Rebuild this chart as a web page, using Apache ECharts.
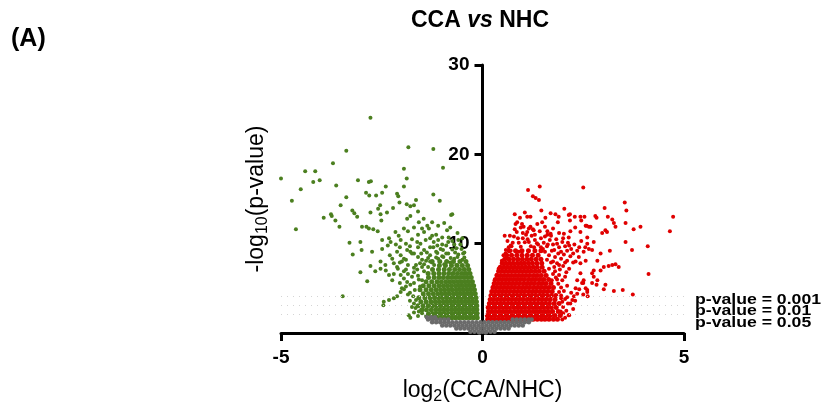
<!DOCTYPE html>
<html>
<head>
<meta charset="utf-8">
<script src="https://cdn.jsdelivr.net/npm/echarts@6/dist/echarts.min.js"></script>
<style>html,body{margin:0;padding:0;background:#fff}#chart{width:821px;height:410px}</style>
</head>
<body>
<div id="chart"></div>
<script>
// ---------- data (log2 fold change, -log10 p-value) ----------
const xTicks = [-5, 0, 5];
const yTicks = [0, 10, 20, 30];
const thresholdLevels = [4.1, 3.1, 2.1];
const thresholdLabels = ['p-value = 0.001', 'p-value = 0.01', 'p-value = 0.05'];

// dense core of down-regulated genes, rows: [y, [x...]]
const greenCoreRows = [
  [1.7, [-0.13,-0.22,-0.31,-0.4,-0.49,-0.58,-0.67,-0.76,-0.86,-0.95,-1.05,-1.15,-1.26]],
  [2.15, [-0.13,-0.21,-0.3,-0.39,-0.48,-0.57,-0.66,-0.75,-0.84,-0.94,-1.03,-1.13,-1.23,-1.34]],
  [2.6, [-0.14,-0.23,-0.32,-0.41,-0.5,-0.59,-0.68,-0.77,-0.87,-0.96,-1.06,-1.16,-1.27,-1.39,-1.5]],
  [3.05, [-0.14,-0.22,-0.31,-0.4,-0.49,-0.58,-0.67,-0.76,-0.85,-0.95,-1.04,-1.14,-1.24,-1.35,-1.47,-1.6]],
  [3.5, [-0.15,-0.24,-0.33,-0.42,-0.51,-0.6,-0.69,-0.78,-0.88,-0.97,-1.07,-1.17,-1.28,-1.4,-1.53]],
  [3.95, [-0.16,-0.25,-0.34,-0.43,-0.52,-0.61,-0.7,-0.8,-0.89,-0.99,-1.09,-1.19,-1.3,-1.43,-1.58]],
  [4.4, [-0.18,-0.27,-0.36,-0.45,-0.54,-0.63,-0.72,-0.82,-0.91,-1.01,-1.11,-1.22,-1.34,-1.47]],
  [4.85, [-0.2,-0.29,-0.38,-0.47,-0.56,-0.65,-0.75,-0.84,-0.94,-1.04,-1.15,-1.27,-1.4,-1.55]],
  [5.3, [-0.22,-0.31,-0.4,-0.49,-0.58,-0.67,-0.77,-0.87,-0.97,-1.08,-1.2,-1.33,-1.47]],
  [5.75, [-0.25,-0.34,-0.43,-0.52,-0.61,-0.71,-0.81,-0.91,-1.02,-1.13,-1.26,-1.4]],
  [6.2, [-0.28,-0.37,-0.46,-0.56,-0.66,-0.76,-0.86,-0.97,-1.08,-1.2,-1.34]],
  [6.65, [-0.31,-0.41,-0.51,-0.62,-0.73,-0.84,-0.96,-1.08,-1.21,-1.35]],
  [7.1, [-0.34,-0.45,-0.57,-0.69,-0.82,-0.95,-1.09,-1.24]],
  [7.55, [-0.37,-0.5,-0.63,-0.77,-0.92,-1.07]],
  [8.0, [-0.41,-0.56,-0.72,-0.89,-1.06,-1.25]]
];
const greenScatter = [
  [-2.78,24.1],[-3.38,20.4],[-1.84,20.8],[-1.22,20.6],[-3.71,19.0],[-0.98,18.5],[-4.40,18.1],[-4.15,18.1],
  [-1.95,18.4],[-5.0,17.3],[-4.2,16.9],[-4.04,17.1],[-3.09,17.1],[-2.82,16.9],[-2.77,17.0],[-1.88,17.3],
  [-4.51,16.1],[-3.63,16.5],[-1.95,16.4],[-2.4,16.4],[-4.73,14.8],[-3.38,15.2],[-2.89,15.7],[-2.81,15.4],
  [-2.64,15.4],[-2.49,15.7],[-2.12,15.6],[-2.09,15.3],[-1.22,15.5],[-1.06,14.8],[-1.65,14.9],[-1.88,14.4],
  [-1.79,14.2],[-1.7,14.3],[-2.06,14.6],[-3.52,14.3],[-3.23,13.7],[-3.18,13.4],[-2.78,13.5],[-2.54,14.3],
  [-2.59,13.9],[-2.37,13.5],[-2.22,14.0],[-1.6,13.6],[-0.78,13.2],[-3.76,13.3],[-3.74,13.1],[-3.94,12.9],
  [-3.11,13.0],[-4.63,11.6],[-3.65,12.6],[-3.55,11.9],[-2.51,12.6],[-2.53,13.3],[-2.99,11.9],[-2.88,11.9],
  [-2.82,11.7],[-2.71,11.6],[-2.6,11.4],[-3.3,10.1],[-3.22,8.8],[-3.03,10.2],[-3.0,9.3],[-2.74,9.1],
  [-3.03,6.8],[-2.86,5.8],[-3.47,4.1],[-2.78,7.5],[-2.66,6.9],[-2.53,7.2],[-2.46,3.1],[-2.32,3.7],
  [-2.2,3.9],[-2.49,10.4],[-2.32,10.6],[-2.28,10.2],[-2.35,9.8],[-2.24,8.3],[-2.2,7.8],[-2.12,7.4],
  [-2.49,9.4],[-2.16,11.3],[-2.08,10.9],[-2.03,10.4],[-1.95,11.7],[-1.87,12.8],[-1.79,13.1],[-1.58,12.4],
  [-1.46,12.8],[-1.37,12.0],[-1.33,11.7],[-1.25,10.9],[-0.88,11.5],[-0.84,10.7],[-0.75,13.3],[-1.62,10.2],
  [-1.54,10.0],[-1.41,10.4],[-1.21,10.2],[-1.12,9.8],[-1.04,9.4],[-1.87,9.3],[-1.79,9.1],[-1.7,8.9],
  [-2.12,9.1],[-2.03,8.7],[-1.95,8.3],[-2.53,8.0],[-2.41,7.6],[-2.32,6.5],[-2.24,5.9],[-2.03,6.5],
  [-1.95,6.1],[-1.87,5.7],[-1.79,5.4],[-1.83,2.0],[-1.79,1.7],[-1.66,2.8],[-1.58,2.4],[-1.52,2.6],
  [-2.12,4.1],[-2.03,4.6],[-2.45,3.5],
  [-1.9,10.0],[-1.75,10.5],[-1.6,11.0],[-1.45,11.3],[-1.3,10.6],[-1.15,11.0],[-1.0,10.7],[-0.9,9.8],
  [-0.75,10.3],[-0.65,9.5],[-0.55,9.9],[-0.6,8.8],[-0.7,8.3],[-0.85,8.9],[-1.0,8.6],[-1.15,9.1],
  [-1.3,8.7],[-1.45,9.3],[-1.6,8.5],[-1.75,8.9],[-1.9,8.2],[-2.05,7.9],[-1.85,7.6],[-1.7,7.3],
  [-1.55,7.8],[-1.4,8.1],[-1.25,7.9],[-1.1,8.3],[-0.95,7.7],[-0.8,7.9],[-0.65,7.6],[-0.5,8.2],
  [-0.45,9.0],[-0.5,10.6],[-0.62,11.2],[-0.8,11.8],[-0.95,12.3],[-1.1,12.0],[-1.25,12.4],[-1.5,11.7],
  [-1.7,11.8],[-1.85,11.4],[-2.05,9.6],[-2.15,9.9],[-2.3,8.7],[-2.4,7.0],[-2.2,6.6],[-2.05,5.6],
  [-1.95,4.9],[-1.85,4.3],[-1.8,3.6],[-1.7,6.8],[-1.6,6.4],[-2.1,7.2],[-1.95,6.9],
  [-0.45,8.45],[-0.62,8.5],[-0.79,8.4],[-0.97,8.5],[-1.15,8.45],[-1.35,8.4],[-0.48,8.9],[-0.68,9.0],
  [-0.9,8.9],[-1.12,8.95],[-0.52,9.4],[-0.75,9.35],[-0.98,9.3],[-1.22,9.6],[-1.38,9.0],[-1.52,8.9],
  [-1.5,7.4],[-1.62,7.1],[-1.45,6.9],[-1.58,6.0],[-1.7,5.6],[-1.68,4.8],[-1.72,4.1],[-1.7,3.3],
  [-1.7,2.3],[-1.75,2.9],[-1.65,3.7],[-1.8,4.5],[-1.9,5.2],[-2.0,5.0],[-1.55,5.2],[-1.5,5.9],
  [-1.75,6.3],[-1.85,6.6],[-1.65,7.6],[-1.9,7.1],[-2.0,8.0],[-1.35,7.4],[-1.2,7.6],[-1.3,8.0],
  [-1.45,7.7],[-1.5,8.2],[-1.0,9.9],[-0.7,9.9],[-0.6,10.4],[-0.85,10.2],[-1.1,10.4],[-1.3,9.6],
  [-1.6,9.6],[-1.8,9.7],[-1.4,1.9],[-1.5,2.2],[-1.6,1.9]
];

// dense core of up-regulated genes, rows: [y, [x...]]
const redCoreRows = [
  [1.55, [0.13,0.22,0.31,0.41,0.5,0.6,0.69,0.79,0.88,0.98,1.07,1.17,1.26,1.36,1.46,1.55,1.65,1.76,1.86]],
  [1.95, [0.12,0.2,0.29,0.38,0.47,0.56,0.65,0.74,0.84,0.93,1.03,1.12,1.21,1.31,1.4,1.5,1.59,1.69,1.8,1.93]],
  [2.4, [0.15,0.24,0.33,0.43,0.52,0.61,0.7,0.8,0.89,0.98,1.08,1.17,1.27,1.36,1.45,1.55,1.64,1.74,1.88]],
  [2.85, [0.14,0.22,0.31,0.4,0.49,0.58,0.67,0.77,0.86,0.95,1.04,1.14,1.23,1.32,1.42,1.51,1.61,1.71,1.83]],
  [3.3, [0.17,0.26,0.35,0.44,0.53,0.63,0.72,0.81,0.9,1.0,1.09,1.18,1.28,1.37,1.47,1.56,1.66,1.78,1.9]],
  [3.75, [0.19,0.28,0.37,0.46,0.55,0.64,0.73,0.83,0.92,1.01,1.11,1.2,1.29,1.39,1.48,1.58,1.68,1.8]],
  [4.2, [0.21,0.3,0.39,0.48,0.57,0.66,0.76,0.85,0.94,1.03,1.13,1.22,1.31,1.41,1.5,1.6,1.71,1.82]],
  [4.65, [0.23,0.32,0.41,0.5,0.59,0.68,0.78,0.87,0.96,1.05,1.15,1.24,1.33,1.43,1.52,1.62,1.73]],
  [5.1, [0.26,0.35,0.44,0.53,0.62,0.71,0.8,0.9,0.99,1.08,1.17,1.27,1.36,1.45,1.55,1.65,1.76]],
  [5.55, [0.29,0.38,0.47,0.56,0.65,0.74,0.83,0.92,1.02,1.11,1.2,1.29,1.39,1.48,1.58,1.7]],
  [6.0, [0.32,0.41,0.5,0.59,0.68,0.77,0.86,0.95,1.04,1.14,1.23,1.32,1.42,1.52,1.64]],
  [6.45, [0.36,0.45,0.54,0.63,0.72,0.81,0.9,0.99,1.08,1.17,1.27,1.36,1.46,1.58]],
  [6.9, [0.4,0.49,0.58,0.67,0.76,0.85,0.94,1.03,1.12,1.21,1.31,1.41,1.53]],
  [7.35, [0.44,0.53,0.62,0.71,0.8,0.89,0.98,1.07,1.16,1.26,1.36,1.48]],
  [7.8, [0.49,0.58,0.67,0.76,0.86,0.95,1.04,1.14,1.24,1.35,1.47]],
  [8.25, [0.55,0.66,0.77,0.88,0.99,1.1,1.21,1.33,1.45]],
  [8.7, [0.6,0.72,0.85,0.98,1.11,1.24,1.38]],
  [9.2, [0.66,0.82,0.98,1.14,1.3,1.45]]
];
const redScatter = [
  [1.13,16.0],[1.42,16.4],[1.25,15.3],[1.32,15.1],[1.40,14.9],[2.50,16.3],[0.80,13.3],[1.05,13.5],
  [1.46,13.7],[0.93,12.9],[1.11,13.0],[1.19,13.0],[1.69,13.4],[1.81,13.3],[2.03,13.9],[2.14,13.2],
  [2.29,13.0],[2.43,13.0],[1.56,12.9],[1.87,12.4],[1.89,13.0],[1.36,12.2],[1.48,12.4],[0.82,12.2],
  [0.86,12.4],[0.98,12.2],[1.02,11.9],[0.55,10.9],[1.19,11.9],[1.27,11.5],[1.11,11.3],[1.61,11.4],
  [1.69,11.1],[1.61,11.0],[2.02,11.1],[2.18,11.4],[2.14,10.7],[2.43,11.3],[2.56,12.0],[2.64,11.9],
  [2.6,10.7],[0.65,9.6],[0.57,8.9],[3.53,14.6],[3.57,13.7],[3.55,12.3],[4.73,13.0],[4.65,11.4],
  [3.92,11.9],[3.75,11.6],[3.03,14.0],[2.17,13.3],[2.17,12.6],[2.45,12.6],[2.53,13.0],[2.80,13.1],
  [2.83,12.9],[3.11,13.0],[3.22,12.7],[3.26,12.3],[3.30,11.9],[2.68,11.9],[2.58,12.0],[3.05,11.5],
  [2.97,11.2],[3.09,11.3],[3.55,10.2],[4.10,9.7],[3.71,9.3],[3.16,9.2],[2.93,8.9],[2.85,8.1],
  [3.01,7.4],[3.13,7.5],[3.22,7.6],[3.30,7.7],[3.38,7.4],[2.76,7.0],[2.72,6.7],[2.93,7.0],
  [4.12,6.6],[3.05,5.4],[3.01,4.9],[3.26,4.7],[3.48,4.8],[3.73,4.3],[2.6,4.6],[2.5,4.3],
  [2.61,4.1],[2.76,6.3],[2.85,5.9],[2.72,5.6],[2.83,5.4],[2.6,10.0],[2.64,9.4],[2.51,9.1],
  [2.72,9.3],[2.76,10.2],[2.56,8.1],[2.43,7.8],[2.39,8.5],[2.31,8.0],[2.43,6.7],[2.35,5.9],
  [2.47,5.6],[2.56,5.0],[2.31,5.0],[2.27,4.1],[2.23,3.7],[2.1,4.0],[2.51,5.9],[2.35,4.4],
  [2.18,3.3],[2.14,2.0],[1.94,2.4],[2.6,4.8],
  [0.62,10.3],[0.7,9.8],[0.78,10.8],[0.85,11.3],[0.9,10.1],[1.0,10.6],[1.08,11.0],[1.15,10.2],
  [1.22,10.9],[1.3,10.4],[1.38,9.9],[1.45,10.6],[1.52,10.1],[1.6,9.7],[1.67,10.4],[1.75,9.9],
  [1.83,10.5],[1.9,9.6],[1.98,10.2],[2.05,9.7],[2.12,10.1],[2.2,9.4],[2.28,9.9],[2.35,9.2],
  [1.55,9.1],[1.65,8.7],[1.72,9.2],[1.8,8.5],[1.88,8.9],[1.95,8.3],[2.02,8.8],[2.1,8.1],
  [2.18,8.6],[2.25,7.9],[1.7,7.9],[1.78,7.4],[1.85,7.8],[1.92,7.1],[2.0,7.5],[2.08,6.8],
  [2.15,7.2],[1.75,6.6],[1.82,6.2],[1.9,6.5],[1.98,5.9],[2.05,6.3],[1.88,5.5],[1.95,5.1],
  [2.02,4.7],[2.1,5.3],[2.2,4.5],[1.95,4.2],[2.05,3.8],[2.12,3.3],[2.0,2.9],[2.08,2.5],
  [2.15,2.0],[2.25,2.7],[2.3,3.6],[1.98,3.5],[2.4,4.9],[2.5,5.6],[0.95,11.8],[1.25,11.6],
  [1.55,11.9],[1.75,11.7],[1.9,11.2],[2.3,11.8],[2.45,10.3],[2.55,9.6],[0.58,9.3],[0.52,8.7],
  [0.48,8.1],[0.4,7.2],[0.35,6.5],[0.3,5.9],[0.27,5.2],
  [0.72,9.7],[0.95,9.65],[1.2,9.7],[1.45,9.6],[0.75,10.1],[1.05,10.15],[1.35,10.05],[0.68,10.9],
  [0.8,11.6],[1.0,11.2],[1.15,11.7],[1.3,11.0],[1.42,11.4],[1.55,10.8],[1.7,10.9],[1.85,10.0],
  [2.0,10.6],[2.15,9.8],[0.88,10.6],[1.12,10.5],[1.28,9.6],[1.5,9.4],[1.62,9.9],[1.78,9.3],
  [1.95,9.1],[2.1,9.2],[2.25,8.9],[2.4,9.6],[0.6,8.4],[0.7,9.2],[0.9,9.1],[1.6,8.2],
  [1.75,8.0],[1.9,7.6],[2.05,7.9],[1.65,7.2],[1.8,6.9],[1.72,5.9],[1.85,6.0],[1.9,4.6],
  [1.95,3.9],[2.0,2.2],[2.05,1.7],[1.98,1.5]
];

// non-significant genes, rows: [y, [x...]]
const grayRows = [
  [0.05, [-0.08,0.08]],
  [0.15, [-0.3,-0.2,-0.1,0,0.1,0.2,0.3]],
  [0.5, [-0.65,-0.55,-0.45,-0.35,-0.25,-0.15,-0.05,0.05,0.15,0.25,0.35,0.45,0.55,0.65]],
  [0.85, [-1.0,-0.9,-0.8,-0.7,-0.6,-0.5,-0.4,-0.3,-0.2,-0.1,0,0.1,0.2,0.3,0.4,0.5,0.6,0.7,0.8,0.9,1.0]],
  [1.2, [-1.25,-1.15,-1.05,-0.95,-0.85,-0.75,-0.65,-0.55,-0.45,-0.35,-0.25,-0.15,-0.05,0.05,0.15,0.25,0.35,0.45,0.55,0.65,0.75,0.85,0.95,1.05,1.15]],
  [1.5, [-1.35,-1.25,-1.15,-1.05,-0.95,-0.85,0.75,0.85,0.95,1.05,1.15,1.22]],
  [1.75, [-1.38,-1.28,-1.18]]
];

// ---------- build ----------
function fromRows(rows) {
  const out = [];
  rows.forEach(r => r[1].forEach(x => out.push([x, r[0]])));
  return out;
}
const greenCore = fromRows(greenCoreRows);
const redCore = fromRows(redCoreRows);
const grayData = fromRows(grayRows);

const FONT = 'Liberation Sans, Arial, Helvetica, sans-serif';
const GREEN = '#4b7f1f', RED = '#e00000', GRAY = '#6b6b6b';
const chart = echarts.init(document.getElementById('chart'), null, {renderer: 'canvas'});

// pixel distance of x = 0 from the grid's left edge (y axis sits on x = 0)
const GRID_LEFT = 281, GRID_RIGHT = 137;
const plotW = 821 - GRID_LEFT - GRID_RIGHT;
const zeroOffset = plotW * (0 - xTicks[0]) / (xTicks[xTicks.length - 1] - xTicks[0]);

function dots(name, data, color, size, z) {
  return {type: 'scatter', name, data, symbolSize: size, z, silent: true,
    itemStyle: {color, opacity: 1}};
}

chart.setOption({
  backgroundColor: '#ffffff',
  animation: false,
  title: [
    {
      text: '{b|CCA }{i|vs}{b| NHC}',
      left: 406, top: 4,
      textStyle: {
        rich: {
          b: {fontFamily: FONT, fontSize: 23, fontWeight: 'bold', color: '#000'},
          i: {fontFamily: FONT, fontSize: 23, fontWeight: 'bold', fontStyle: 'italic', color: '#000'}
        }
      }
    },
    {
      text: '(A)', left: 6, top: 22,
      textStyle: {fontFamily: FONT, fontSize: 25, fontWeight: 'bold', color: '#000'}
    }
  ],
  grid: {left: GRID_LEFT, right: GRID_RIGHT, top: 65, bottom: 75, containLabel: false},
  xAxis: {
    type: 'value', min: xTicks[0], max: xTicks[xTicks.length - 1], interval: 5,
    splitLine: {show: false},
    axisLine: {show: true, onZero: false, lineStyle: {color: '#000', width: 3}},
    axisTick: {show: true, length: 8, lineStyle: {color: '#000', width: 3}},
    axisLabel: {color: '#000', fontFamily: FONT, fontSize: 19, fontWeight: 'bold', margin: 15},
    name: '{n|log}{s|2}{n|(CCA/NHC)}',
    nameLocation: 'middle', nameGap: 44,
    nameTextStyle: {
      rich: {
        n: {fontFamily: FONT, fontSize: 23, color: '#000', lineHeight: 28},
        s: {fontFamily: FONT, fontSize: 16, color: '#000', lineHeight: 14, verticalAlign: 'bottom'}
      }
    }
  },
  yAxis: {
    type: 'value', min: yTicks[0], max: yTicks[yTicks.length - 1], interval: 10,
    offset: -zeroOffset,
    splitLine: {show: false},
    axisLine: {show: true, onZero: false, lineStyle: {color: '#000', width: 3}},
    axisTick: {show: true, length: 8, lineStyle: {color: '#000', width: 3}},
    axisLabel: {color: '#000', fontFamily: FONT, fontSize: 19, fontWeight: 'bold', margin: 13,
      formatter: v => (v === 0 ? '' : String(v))},
    name: '{n|-log}{s|10}{n|(p-value)}',
    nameLocation: 'middle', nameRotate: 90, nameGap: 212,
    nameTextStyle: {
      rich: {
        n: {fontFamily: FONT, fontSize: 23, color: '#000', lineHeight: 28},
        s: {fontFamily: FONT, fontSize: 16, color: '#000', lineHeight: 14, verticalAlign: 'bottom'}
      }
    }
  },
  graphic: thresholdLabels.map((t, i) => ({
    type: 'text', left: 695, top: 293 + i * 11.5, scaleX: 1.26,
    style: {text: t, font: 'bold 14px ' + FONT, fill: '#000'}
  })),
  series: [
    {
      type: 'scatter', data: [], z: 1, silent: true,
      markLine: {
        silent: true, symbol: 'none', label: {show: false},
        lineStyle: {color: '#d4d4d4', width: 1, type: [1, 5]},
        data: thresholdLevels.map(v => ({yAxis: v}))
      }
    },
    dots('down core', greenCore, GREEN, 5, 2),
    dots('down', greenScatter, GREEN, 4, 2),
    dots('up core', redCore, RED, 5, 2),
    dots('up', redScatter, RED, 4, 2),
    dots('ns', grayData, GRAY, 4.5, 3)
  ]
});
</script>
</body>
</html>
